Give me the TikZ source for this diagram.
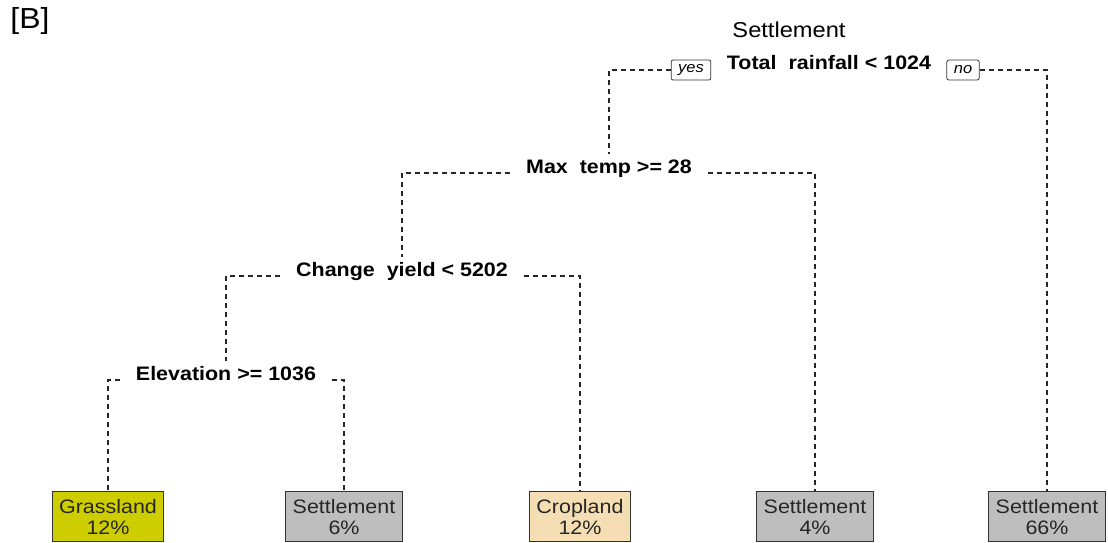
\documentclass[tikz,border=0pt]{standalone}
\usepackage{fontspec}
\setmainfont[FakeStretch=1.1]{Liberation Sans}
\definecolor{grass}{HTML}{CDCD00}
\definecolor{crop}{HTML}{F5DEB3}
\definecolor{settle}{HTML}{BEBEBE}
\begin{document}
\begin{tikzpicture}[x=1pt,y=-1pt,
  split/.style={font=\bfseries\fontsize{19.5}{22}\selectfont, inner xsep=16pt, inner ysep=5pt, anchor=base},
  yesno/.style={draw=black!80, rounded corners=2pt, font=\itshape\fontsize{15}{16}\selectfont, inner xsep=7pt, inner ysep=2pt, minimum height=20pt, line width=0.8pt},
  leaf/.style={draw=black!80, line width=1.2pt, align=center, font=\fontsize{19.5}{21}\selectfont, anchor=north, minimum height=50pt, inner xsep=7pt, inner ysep=4pt, text=black!85},
  branch/.style={dash pattern=on 5pt off 4pt, line width=1.1pt, draw=black!85}]
\useasboundingbox (0,0) rectangle (1108,543);
\node[font=\fontsize{29}{31}\selectfont] (lab) at (30,21) {[B]};
\node[font=\fontsize{21.5}{23}\selectfont] (title) at (789,30) {Settlement};
\node[split] (root) at (829,70) {Total~~rainfall < 1024};
\node[yesno] (yes) at (691,70) {yes};
\node[yesno] (no) at (963,70) {no};
\node[split] (maxtemp) at (609,173) {Max~~temp >= 28};
\node[split] (change) at (402,276) {Change~~yield < 5202};
\node[split] (elev) at (226,380) {Elevation >= 1036};
\node[leaf, fill=grass] (l1) at (108,491) {Grassland\\12\%};
\node[leaf, fill=settle] (l2) at (344,491) {Settlement\\6\%};
\node[leaf, fill=crop] (l3) at (580,491) {Cropland\\12\%};
\node[leaf, fill=settle] (l4) at (815,491) {Settlement\\4\%};
\node[leaf, fill=settle] (l5) at (1047,491) {Settlement\\66\%};
\draw[branch] (yes.west) -| (maxtemp.north);
\draw[branch] (no.east) -| (l5.north);
\draw[branch] (maxtemp.base west) -| (change.north);
\draw[branch] (maxtemp.base east) -| (l4.north);
\draw[branch] (change.base west) -| (elev.north);
\draw[branch] (change.base east) -| (l3.north);
\draw[branch] (elev.base west) -| (l1.north);
\draw[branch] (elev.base east) -| (l2.north);
\end{tikzpicture}
\end{document}
